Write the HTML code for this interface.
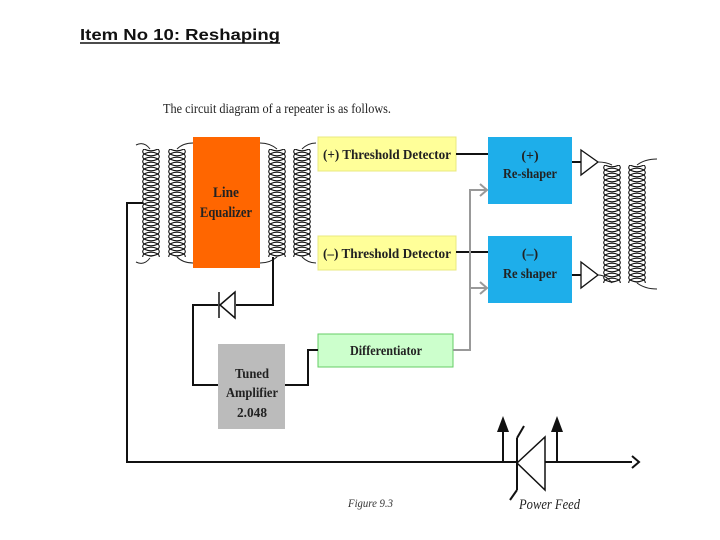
<!DOCTYPE html>
<html><head><meta charset="utf-8"><style>
html,body{margin:0;padding:0;background:#fff;}
svg{display:block;}
.t{font-family:"Liberation Serif",serif;font-weight:bold;fill:#222;}
</style></head><body>
<svg width="720" height="540" viewBox="0 0 720 540" xmlns="http://www.w3.org/2000/svg">
<defs>
<pattern id="coil" patternUnits="userSpaceOnUse" width="20" height="5">
<ellipse cx="9" cy="-2.5" rx="8.3" ry="4.3" fill="none" stroke="#111" stroke-width="1.1"/>
<ellipse cx="9" cy="2.5" rx="8.3" ry="4.3" fill="none" stroke="#111" stroke-width="1.1"/>
<ellipse cx="9" cy="7.5" rx="8.3" ry="4.3" fill="none" stroke="#111" stroke-width="1.1"/>
</pattern>
</defs>
<text x="80" y="40" font-family="Liberation Sans,sans-serif" font-weight="bold" font-size="16" fill="#111" textLength="200" lengthAdjust="spacingAndGlyphs">Item No 10: Reshaping</text>
<line x1="80" y1="43" x2="280" y2="43" stroke="#111" stroke-width="1.5"/>
<text x="163" y="113" font-family="Liberation Serif,serif" font-size="14" fill="#222" textLength="228" lengthAdjust="spacingAndGlyphs">The circuit diagram of a repeater is as follows.</text>

<!-- coils -->
<g transform="translate(142,149)"><rect width="18" height="108" fill="url(#coil)"/></g>
<g transform="translate(168,149)"><rect width="18" height="108" fill="url(#coil)"/></g>
<g transform="translate(268,149)"><rect width="18" height="108" fill="url(#coil)"/></g>
<g transform="translate(293,149)"><rect width="18" height="108" fill="url(#coil)"/></g>
<g transform="translate(603,165)"><rect width="18" height="118" fill="url(#coil)"/></g>
<g transform="translate(628,165)"><rect width="18" height="118" fill="url(#coil)"/></g>
<g stroke="#222" fill="none" stroke-width="1">
<path d="M136,145 q8,-4 14,4"/><path d="M136,262 q8,4 14,-4"/>
<path d="M177,149 q6,-6 16,-6"/><path d="M177,257 q6,6 16,6"/>
<path d="M260,143 q10,0 17,6"/><path d="M260,263 q10,0 17,-6"/>
<path d="M302,149 q6,-6 14,-6"/><path d="M302,257 q6,6 14,6"/>
<path d="M598,162 q8,0 14,3"/><path d="M598,275 q8,0 14,8"/>
<path d="M637,165 q8,-6 20,-6"/><path d="M637,283 q8,6 20,6"/>
</g>

<!-- boxes -->
<rect x="193" y="137" width="67" height="131" fill="#FF6600"/>
<text class="t" x="226" y="197" font-size="15" text-anchor="middle" textLength="26" lengthAdjust="spacingAndGlyphs">Line</text>
<text class="t" x="226" y="217" font-size="15" text-anchor="middle" textLength="52" lengthAdjust="spacingAndGlyphs">Equalizer</text>
<rect x="318" y="137" width="138" height="34" fill="#FFFF99" stroke="#e8e880"/>
<text class="t" x="387" y="159" font-size="14" text-anchor="middle" textLength="128" lengthAdjust="spacingAndGlyphs">(+) Threshold Detector</text>
<rect x="318" y="236" width="138" height="34" fill="#FFFF99" stroke="#e8e880"/>
<text class="t" x="387" y="258" font-size="14" text-anchor="middle" textLength="128" lengthAdjust="spacingAndGlyphs">(–) Threshold Detector</text>
<rect x="318" y="334" width="135" height="33" fill="#CCFFCC" stroke="#66cc66"/>
<text class="t" x="386" y="355" font-size="14" text-anchor="middle" textLength="72" lengthAdjust="spacingAndGlyphs">Differentiator</text>
<rect x="488" y="137" width="84" height="67" fill="#1EAEEA"/>
<text class="t" x="530" y="160" font-size="14" text-anchor="middle" font-weight="normal">(+)</text>
<text class="t" x="530" y="178" font-size="14" text-anchor="middle" textLength="54" lengthAdjust="spacingAndGlyphs">Re-shaper</text>
<rect x="488" y="236" width="84" height="67" fill="#1EAEEA"/>
<text class="t" x="530" y="258" font-size="14" text-anchor="middle" font-weight="normal">(–)</text>
<text class="t" x="530" y="278" font-size="14" text-anchor="middle" textLength="54" lengthAdjust="spacingAndGlyphs">Re shaper</text>
<rect x="218" y="344" width="67" height="85" fill="#BBBBBB"/>
<text class="t" x="252" y="378" font-size="14" text-anchor="middle" textLength="34" lengthAdjust="spacingAndGlyphs">Tuned</text>
<text class="t" x="252" y="397" font-size="14" text-anchor="middle" textLength="52" lengthAdjust="spacingAndGlyphs">Amplifier</text>
<text class="t" x="252" y="417" font-size="14" text-anchor="middle" textLength="30" lengthAdjust="spacingAndGlyphs">2.048</text>

<!-- wires -->
<g stroke="#111" stroke-width="2" fill="none">
<path d="M143,203 H127 V462 H632"/>
<path d="M273,257 V305 H236"/>
<path d="M218,305 H193 V385 H218"/>
<path d="M285,385 H308 V350 H318"/>
<line x1="456" y1="154" x2="488" y2="154"/>
<line x1="456" y1="252" x2="488" y2="252"/>
<line x1="572" y1="162" x2="581" y2="162"/>
<line x1="572" y1="275" x2="581" y2="275"/>
</g>
<path d="M632,456 L639,462 L632,468" fill="none" stroke="#111" stroke-width="2"/>
<!-- diode -->
<g stroke="#111" stroke-width="1.5" fill="none">
<line x1="219" y1="292" x2="219" y2="318"/>
<path d="M220,305 L235,292 V318 Z" fill="#fff"/>
</g>
<!-- amps -->
<path d="M581,150 L598,162 L581,175 Z" fill="#fff" stroke="#111" stroke-width="1.3"/>
<path d="M581,262 L598,275 L581,288 Z" fill="#fff" stroke="#111" stroke-width="1.3"/>
<!-- gray lines -->
<g stroke="#999" stroke-width="2" fill="none">
<path d="M453,350 H470 V190 H486"/>
<line x1="470" y1="288" x2="486" y2="288"/>
<path d="M480,184 L487,190 L480,196"/>
<path d="M480,282 L487,288 L480,294"/>
</g>
<!-- power feed -->
<g stroke="#111" stroke-width="2" fill="none">
<line x1="503" y1="462" x2="503" y2="428"/>
<line x1="557" y1="462" x2="557" y2="428"/>
<line x1="517" y1="438" x2="517" y2="490"/>
<line x1="517" y1="438" x2="524" y2="426"/>
<line x1="517" y1="490" x2="510" y2="500"/>
<path d="M517,463 L545,437 V490 Z" fill="#fff" stroke-width="1.5"/>
</g>
<path d="M497,432 L503,416 L509,432 Z" fill="#111"/>
<path d="M551,432 L557,416 L563,432 Z" fill="#111"/>
<text x="519" y="509" font-family="Liberation Serif,serif" font-style="italic" font-size="15" fill="#222" textLength="61" lengthAdjust="spacingAndGlyphs">Power Feed</text>
<text x="348" y="507" font-family="Liberation Serif,serif" font-style="italic" font-size="12" fill="#333" textLength="45" lengthAdjust="spacingAndGlyphs">Figure 9.3</text>
</svg>
</body></html>
